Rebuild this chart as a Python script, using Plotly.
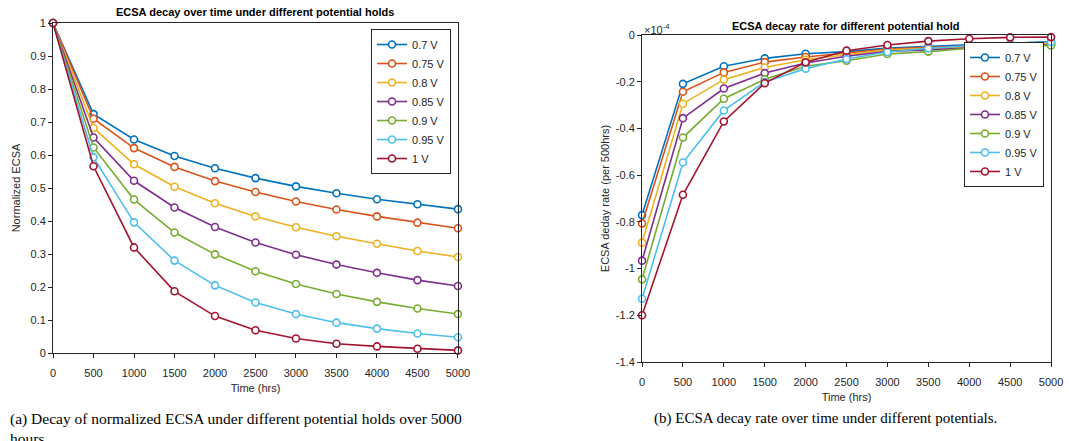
import plotly.graph_objects as go

time_hrs = [0, 500, 1000, 1500, 2000, 2500, 3000, 3500, 4000, 4500, 5000]
potentials = ["0.7 V", "0.75 V", "0.8 V", "0.85 V", "0.9 V", "0.95 V", "1 V"]
colors = ["#0072BD", "#D95319", "#EDB120", "#7E2F8E", "#77AC30", "#4DBEEE", "#A2142F"]

ecsa_07 = [1, 0.724, 0.647, 0.597, 0.560, 0.530, 0.505, 0.484, 0.466, 0.451, 0.436]
ecsa_075 = [1, 0.710, 0.621, 0.564, 0.521, 0.488, 0.459, 0.435, 0.414, 0.395, 0.378]
ecsa_08 = [1, 0.682, 0.572, 0.504, 0.454, 0.414, 0.381, 0.354, 0.331, 0.309, 0.291]
ecsa_085 = [1, 0.653, 0.522, 0.441, 0.382, 0.335, 0.298, 0.268, 0.243, 0.221, 0.203]
ecsa_09 = [1, 0.623, 0.465, 0.365, 0.299, 0.248, 0.209, 0.179, 0.155, 0.135, 0.118]
ecsa_095 = [1, 0.593, 0.396, 0.280, 0.205, 0.153, 0.118, 0.092, 0.074, 0.059, 0.048]
ecsa_10 = [1, 0.566, 0.320, 0.187, 0.112, 0.069, 0.044, 0.028, 0.020, 0.013, 0.008]

# decay rate in units of 1e-4
rate_07 = [-0.771, -0.209, -0.134, -0.100, -0.080, -0.071, -0.056, -0.049, -0.043, -0.038, -0.028]
rate_075 = [-0.807, -0.243, -0.160, -0.116, -0.094, -0.077, -0.060, -0.053, -0.049, -0.043, -0.035]
rate_08 = [-0.889, -0.294, -0.191, -0.139, -0.106, -0.084, -0.063, -0.057, -0.051, -0.046, -0.036]
rate_085 = [-0.966, -0.356, -0.229, -0.163, -0.120, -0.091, -0.070, -0.063, -0.057, -0.050, -0.042]
rate_09 = [-1.046, -0.439, -0.273, -0.189, -0.134, -0.110, -0.081, -0.071, -0.057, -0.050, -0.045]
rate_095 = [-1.129, -0.546, -0.323, -0.201, -0.144, -0.103, -0.073, -0.057, -0.046, -0.040, -0.030]
rate_10 = [-1.200, -0.684, -0.370, -0.206, -0.117, -0.067, -0.043, -0.026, -0.016, -0.010, -0.009]

ecsa_series = [ecsa_07, ecsa_075, ecsa_08, ecsa_085, ecsa_09, ecsa_095, ecsa_10]
rate_series = [rate_07, rate_075, rate_08, rate_085, rate_09, rate_095, rate_10]

left_yticks = [0, 0.1, 0.2, 0.3, 0.4, 0.5, 0.6, 0.7, 0.8, 0.9, 1]
right_yticks = [0, -0.2, -0.4, -0.6, -0.8, -1, -1.2, -1.4]
xticks = time_hrs

fig = go.Figure()
for name, col, ys in zip(potentials, colors, ecsa_series):
    fig.add_trace(go.Scatter(
        x=time_hrs, y=ys, name=name, mode="lines+markers",
        line=dict(color=col, width=1.6),
        marker=dict(symbol="circle", size=7, color="white", line=dict(color=col, width=1.6)),
        xaxis="x", yaxis="y", legend="legend", cliponaxis=False))
for name, col, ys in zip(potentials, colors, rate_series):
    fig.add_trace(go.Scatter(
        x=time_hrs, y=ys, name=name, mode="lines+markers",
        line=dict(color=col, width=1.6),
        marker=dict(symbol="circle", size=7, color="white", line=dict(color=col, width=1.6)),
        xaxis="x2", yaxis="y2", legend="legend2", cliponaxis=False))

FONT = "Liberation Sans, Arial, sans-serif"
tickfont = dict(family=FONT, size=11, color="#262626")
axis_common = dict(showgrid=False, zeroline=False, showline=True, linecolor="#262626",
                   linewidth=1, mirror=True, ticks="outside", ticklen=4, tickcolor="#262626",
                   tickfont=tickfont, automargin=False)
title_font = dict(family=FONT, size=11, color="#262626")

legend_common = dict(xanchor="right", yanchor="top",
                     bordercolor="#262626", borderwidth=1, bgcolor="white",
                     font=dict(family=FONT, size=11, color="#262626"),
                     tracegroupgap=0, itemwidth=30)

fig.update_layout(
    width=1069, height=441,
    margin=dict(l=0, r=0, t=0, b=0, pad=0, autoexpand=False),
    paper_bgcolor="white", plot_bgcolor="white",
    showlegend=True,
    xaxis=dict(domain=[0.0496, 0.4284], range=[0, 5000], tickvals=xticks,
               ticktext=[str(v) for v in xticks], anchor="y", ticklabelstandoff=6,
               title=dict(text="Time (hrs)", font=title_font, standoff=6),
               **axis_common),
    yaxis=dict(domain=[0.1995, 0.9478], range=[0, 1], tickvals=left_yticks,
               ticktext=[("%g" % v) for v in left_yticks], anchor="x",
               title=dict(text="Normalized ECSA", font=title_font, standoff=7),
               **axis_common),
    xaxis2=dict(domain=[0.6006, 0.9832], range=[0, 5000], tickvals=xticks,
                ticktext=[str(v) for v in xticks], anchor="y2", ticklabelstandoff=6,
                title=dict(text="Time (hrs)", font=title_font, standoff=6),
                **axis_common),
    yaxis2=dict(domain=[0.1791, 0.9206], range=[-1.4, 0], tickvals=right_yticks,
                ticktext=[("%g" % v) for v in right_yticks], anchor="x2",
                title=dict(text="ECSA deday rate (per 500hrs)", font=title_font, standoff=4),
                **axis_common),
    legend=dict(x=0.4219, y=0.9342, **legend_common),
    legend2=dict(x=0.9766, y=0.9048, **legend_common),
    annotations=[
        dict(text="<b>ECSA decay over time under different potential holds</b>", x=0.2390, y=0.973,
             xref="paper", yref="paper", showarrow=False, xanchor="center", yanchor="middle",
             font=dict(family=FONT, size=11, color="black")),
        dict(text="<b>ECSA decay rate for different potential hold</b>", x=0.7914, y=0.942,
             xref="paper", yref="paper", showarrow=False, xanchor="center", yanchor="middle",
             font=dict(family=FONT, size=11, color="black")),
        dict(text="×10<sup>-4</sup>", x=0.6006, y=0.913, xref="paper", yref="paper",
             showarrow=False, xanchor="left", yanchor="bottom",
             font=dict(family=FONT, size=11, color="#262626")),
        dict(text="(a) Decay of normalized ECSA under different potential holds over 5000<br>hours.",
             x=0.0075, y=0.074, xref="paper", yref="paper", showarrow=False,
             xanchor="left", yanchor="top", align="left",
             font=dict(family="Liberation Serif, Times New Roman, serif", size=15.5, color="black")),
        dict(text="(b) ECSA decay rate over time under different potentials.",
             x=0.7720, y=0.074, xref="paper", yref="paper", showarrow=False,
             xanchor="center", yanchor="top",
             font=dict(family="Liberation Serif, Times New Roman, serif", size=15, color="black")),
    ],
)

fig.write_html("out.html", config={"displayModeBar": False},
               post_script="document.body.style.margin='0';document.body.style.padding='0';document.body.style.overflow='hidden';")
